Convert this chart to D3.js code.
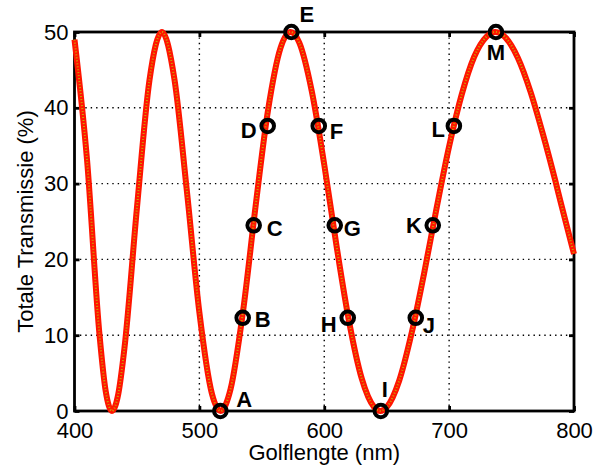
<!DOCTYPE html>
<html>
<head>
<meta charset="utf-8">
<script src="https://cdn.jsdelivr.net/npm/d3@7"></script>
<style>
  body { margin: 0; background: #fff; }
  text { font-family: "Liberation Sans", Arial, Helvetica, sans-serif; }
</style>
</head>
<body>
<svg width="596" height="470"></svg>
<script>
// transmission curve (nm, %)
var wavelengths = [400, 410, 420, 425, 430, 435, 440, 450, 460, 470, 480, 490, 500, 510, 517,
    525, 535, 545, 555, 565, 573, 580, 590, 600, 610, 620, 630, 640, 645, 650, 660, 670,
    680, 690, 700, 710, 720, 730, 737, 745, 755, 765, 775, 785, 790, 800];
var transmission = [49.0, 33.2, 10.1, 2.6, 0, 2.2, 8.3, 26.8, 43.6, 50, 43.8, 29.0, 13.0, 2.3, 0,
    2.9, 13.2, 27.0, 39.7, 47.9, 50, 48.6, 42.2, 32.5, 21.6, 11.7, 4.3, 0.5, 0, 0.5, 4.0, 10.3,
    18.2, 26.8, 34.9, 41.7, 46.7, 49.4, 50, 49.3, 46.6, 42.2, 36.6, 30.4, 27.1, 20.7];

// marked points
var pointNames = ["A", "B", "C", "D", "E", "F", "G", "H", "I", "J", "K", "L", "M"];
var pointWl = [516.8, 534.7, 543.5, 554.7, 573.7, 595.6, 608.4, 618.8, 645.3, 673.3, 686.9, 703.8, 737.5];
var pointT = [0, 12.3, 24.5, 37.6, 50, 37.6, 24.5, 12.3, 0, 12.3, 24.5, 37.6, 50];

var xTicks = [400, 500, 600, 700, 800];
var yTicks = [0, 10, 20, 30, 40, 50];

// where each letter sits next to its marker
var labelPos = {
    A: [16, -4, "start"], B: [12, 9, "start"], C: [13, 11, "start"], D: [-11, 12, "end"],
    E: [8, -10, "start"], F: [11, 13, "start"], G: [9, 11, "start"], H: [-11, 14, "end"],
    I: [4, -14, "middle"], J: [7, 15, "start"], K: [-11, 8, "end"], L: [-9, 11, "end"],
    M: [0, 28, "middle"]
};

var svg = d3.select("svg"),
    plotLeft = 74.5, plotRight = 574, plotTop = 32, plotBottom = 411;

var x = d3.scaleLinear().domain([400, 800]).range([plotLeft, plotRight]);
var y = d3.scaleLinear().domain([0, 50]).range([plotBottom, plotTop]);

// grid
svg.append("g").selectAll("line")
    .data(xTicks.slice(1, -1))
    .enter().append("line")
    .attr("x1", function(d) { return x(d); }).attr("x2", function(d) { return x(d); })
    .attr("y1", plotTop).attr("y2", plotBottom)
    .attr("stroke", "#000").attr("stroke-width", 1.4).attr("stroke-dasharray", "1.4,4");
svg.append("g").selectAll("line")
    .data(yTicks.slice(1, -1))
    .enter().append("line")
    .attr("y1", function(d) { return y(d); }).attr("y2", function(d) { return y(d); })
    .attr("x1", plotLeft).attr("x2", plotRight)
    .attr("stroke", "#000").attr("stroke-width", 1.4).attr("stroke-dasharray", "1.4,4");

// axes, ticks inside, mirrored on top/right
var xb = svg.append("g").attr("transform", "translate(0," + plotBottom + ")")
    .call(d3.axisBottom(x).tickValues(xTicks).tickSizeInner(-5).tickSizeOuter(0).tickPadding(11));
var xt = svg.append("g").attr("transform", "translate(0," + plotTop + ")")
    .call(d3.axisTop(x).tickValues(xTicks).tickSizeInner(-5).tickSizeOuter(0).tickFormat(""));
var yl = svg.append("g").attr("transform", "translate(" + plotLeft + ",0)")
    .call(d3.axisLeft(y).tickValues(yTicks).tickSizeInner(-5).tickSizeOuter(0).tickPadding(6));
var yr = svg.append("g").attr("transform", "translate(" + plotRight + ",0)")
    .call(d3.axisRight(y).tickValues(yTicks).tickSizeInner(-5).tickSizeOuter(0).tickFormat(""));

[xb, xt, yl, yr].forEach(function(g) {
    g.select(".domain").remove();
    g.selectAll(".tick line").attr("stroke", "#000").attr("stroke-width", 2.8);
    g.selectAll("text").attr("font-size", 22).attr("fill", "#000")
        .style("font-family", "'Liberation Sans', Arial, sans-serif");
});

svg.append("rect")
    .attr("x", plotLeft).attr("y", plotTop)
    .attr("width", plotRight - plotLeft).attr("height", plotBottom - plotTop)
    .attr("fill", "none").attr("stroke", "#000").attr("stroke-width", 2.8);

// curve
var line = d3.line()
    .x(function(d) { return x(d[0]); })
    .y(function(d) { return y(d[1]); })
    .curve(d3.curveMonotoneX);
var curveData = d3.zip(wavelengths, transmission);

svg.append("path").datum(curveData)
    .attr("d", line).attr("fill", "none")
    .attr("stroke", "#ff1500").attr("stroke-width", 6).attr("stroke-linejoin", "round");
svg.append("path").datum(curveData)
    .attr("d", line).attr("fill", "none")
    .attr("stroke", "#c8a800").attr("stroke-width", 2).attr("stroke-dasharray", "1,2");

// markers
var pts = d3.range(pointNames.length).map(function(i) {
    return { name: pointNames[i], wl: pointWl[i], t: pointT[i] };
});

svg.append("g").selectAll("circle")
    .data(pts)
    .enter().append("circle")
    .attr("cx", function(d) { return x(d.wl); })
    .attr("cy", function(d) { return y(d.t); })
    .attr("r", 6.3)
    .attr("fill", "none").attr("stroke", "#000").attr("stroke-width", 4);

svg.append("g").selectAll("text")
    .data(pts)
    .enter().append("text")
    .attr("x", function(d) { return x(d.wl) + labelPos[d.name][0]; })
    .attr("y", function(d) { return y(d.t) + labelPos[d.name][1]; })
    .attr("text-anchor", function(d) { return labelPos[d.name][2]; })
    .attr("font-size", 22).attr("font-weight", "bold")
    .text(function(d) { return d.name; });

// axis titles
svg.append("text")
    .attr("x", (plotLeft + plotRight) / 2).attr("y", 460)
    .attr("text-anchor", "middle").attr("font-size", 22)
    .text("Golflengte (nm)");
svg.append("text")
    .attr("transform", "translate(33," + ((plotTop + plotBottom) / 2) + ") rotate(-90)")
    .attr("text-anchor", "middle").attr("font-size", 22)
    .text("Totale Transmissie (%)");
</script>
</body>
</html>
